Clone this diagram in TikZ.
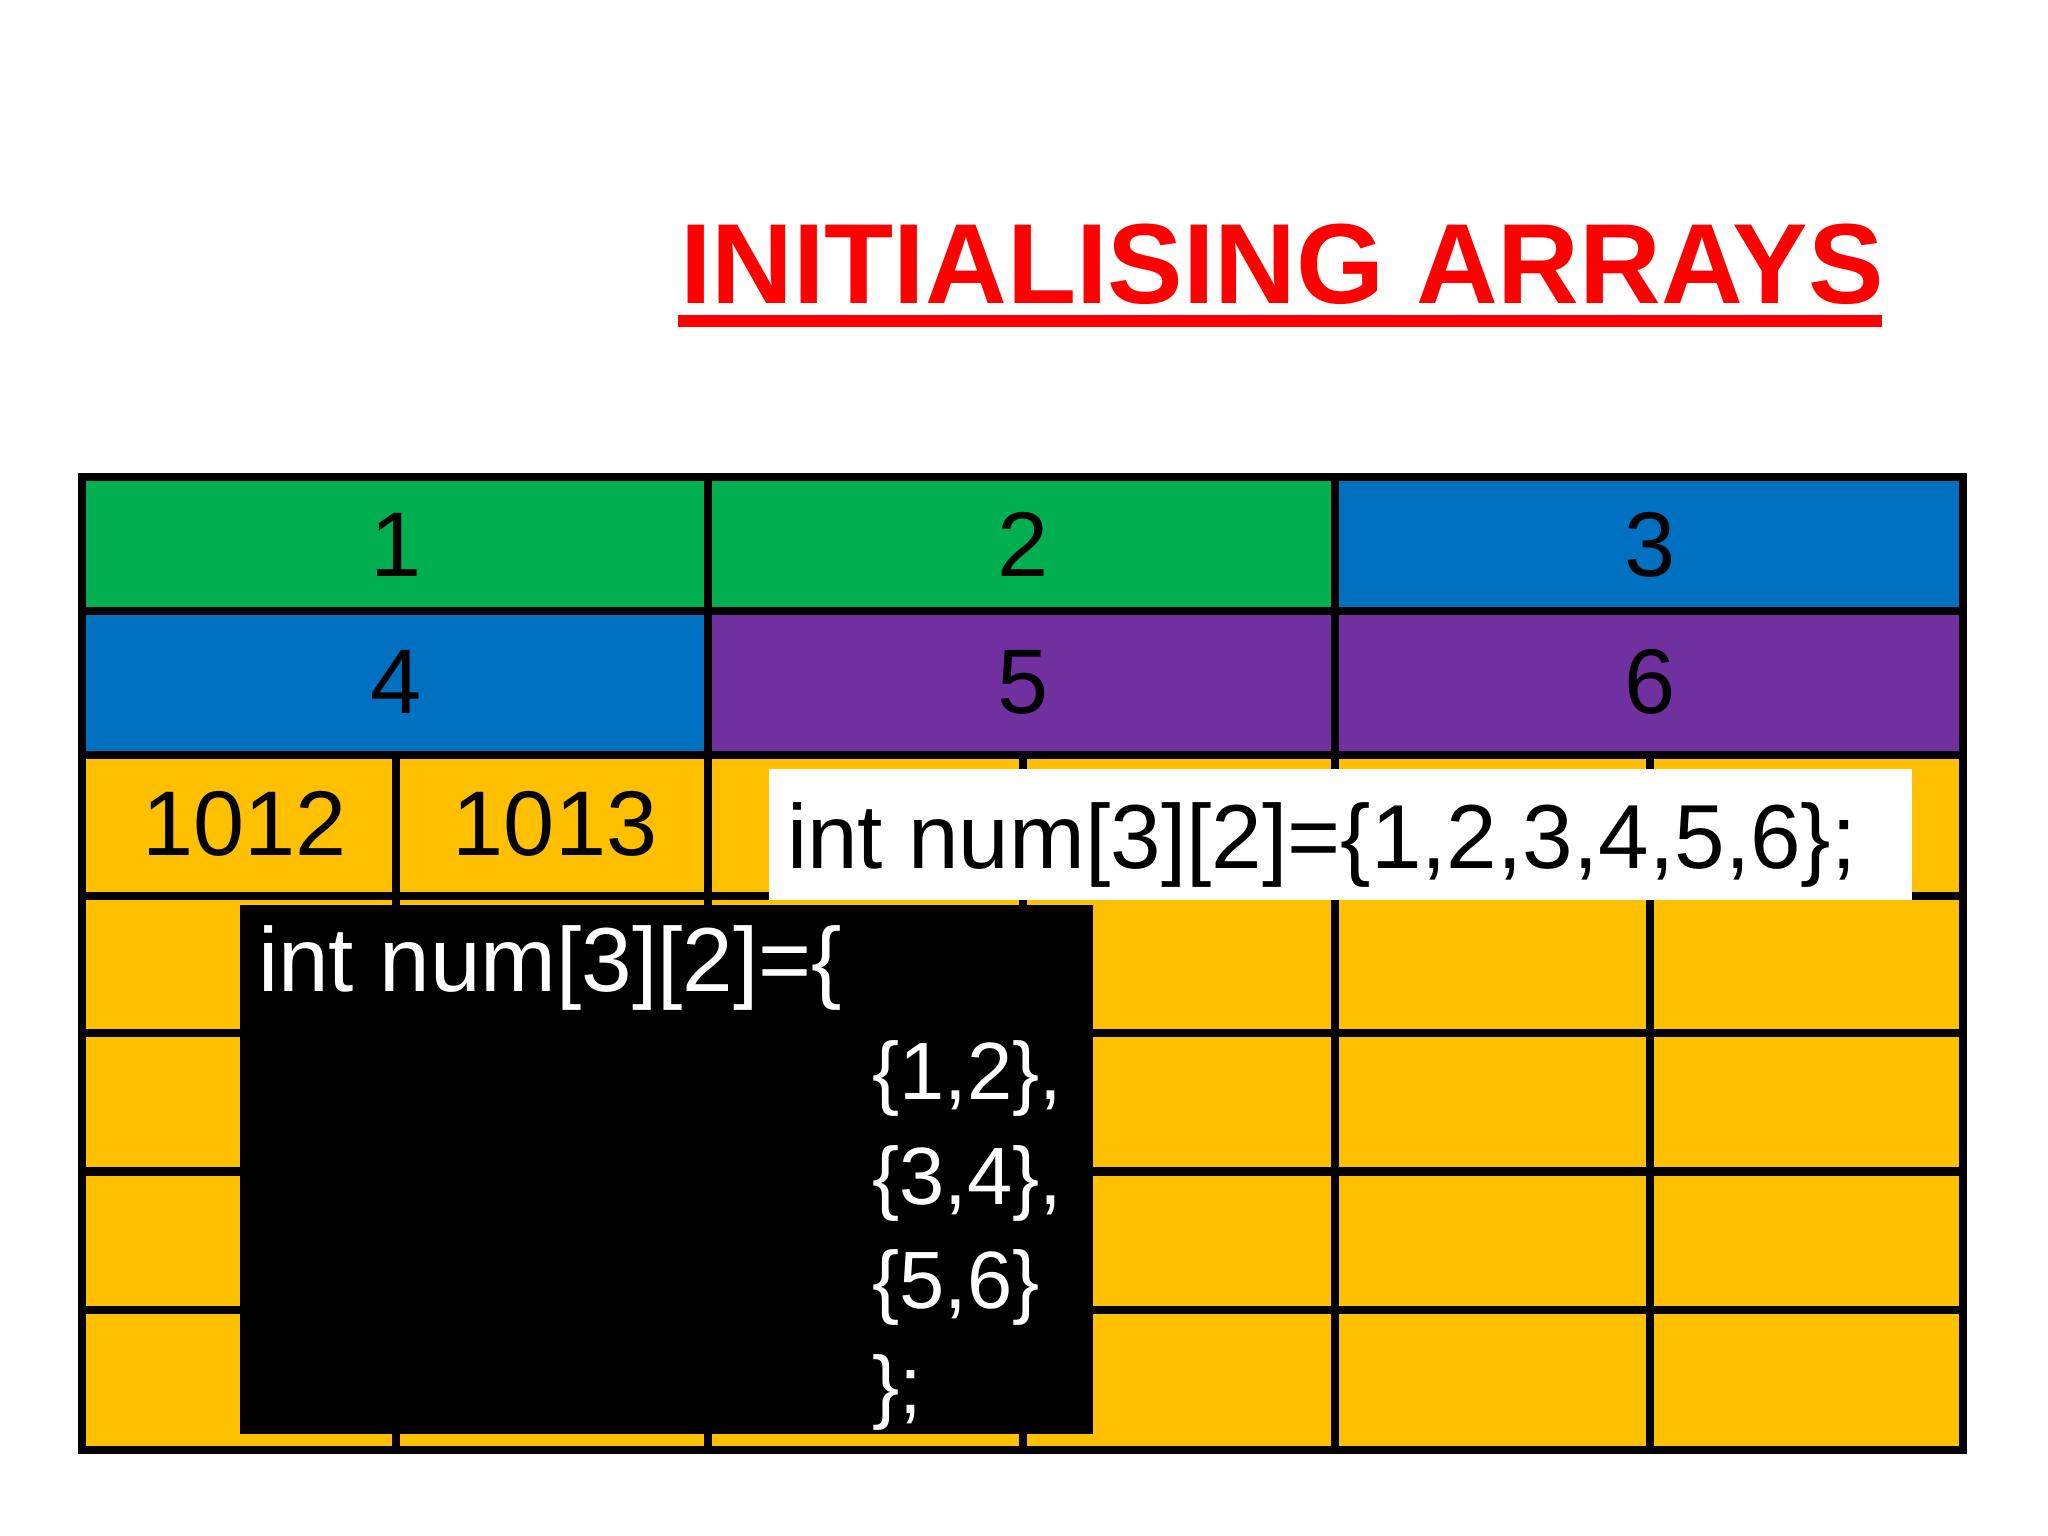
\documentclass[tikz,border=0pt]{standalone}
\usepackage{fontspec}
\setmainfont{Liberation Sans}
\definecolor{cgreen}{HTML}{00B050}
\definecolor{cblue}{HTML}{0070C0}
\definecolor{cpurple}{HTML}{7030A0}
\definecolor{cyellow}{HTML}{FFC000}
\definecolor{cred}{HTML}{FF0000}
\begin{document}
\begin{tikzpicture}[x=0.01cm,y=-0.01cm,
  gridline/.style={line width=1.8pt, black},
  num/.style={font=\fontsize{20}{24}\selectfont, inner sep=0, anchor=base},
  code/.style={font=\fontsize{19.8}{24}\selectfont, inner sep=0, anchor=base west},
  subcode/.style={font=\fontsize{17.7}{22}\selectfont, inner sep=0, anchor=base west, text=white},
  panel/.style={inner sep=0, anchor=north west}]
\useasboundingbox[fill=white] (0,0) rectangle (1568,1176);

% title
\node[anchor=base west, inner sep=0, text=cred, font=\fontsize{24.8}{30}\selectfont\bfseries] (title) at (520,232) {\scalebox{0.994}[1]{INITIALISING ARRAYS}};
\coordinate (ulA) at (519,245.5);
\coordinate (ulB) at (1441,245.5);
\draw[cred, line width=2.6pt] (ulA) -- (ulB);

% fills
\fill[cgreen] (63,365) rectangle (1022,468);
\fill[cblue] (1022,365) rectangle (1503,468);
\fill[cblue] (63,468) rectangle (542,578);
\fill[cpurple] (542,468) rectangle (1503,578);
\fill[cyellow] (63,578) rectangle (1503,1110);

% grid
\foreach \y in {468,578,686,791,897,1003} \draw[gridline] (63,\y) -- (1503,\y);
\foreach \x in {542,1022} \draw[gridline] (\x,365) -- (\x,1110);
\foreach \x in {303,783,1263} \draw[gridline] (\x,578) -- (\x,1110);
\draw[gridline] (63,365) rectangle (1503,1110);

% header numbers
\node[num] (n1) at (303,441.5) {1};
\node[num] (n2) at (783,441.5) {2};
\node[num] (n3) at (1263,441.5) {3};
\node[num] (n4) at (303,546) {4};
\node[num] (n5) at (783,546) {5};
\node[num] (n6) at (1263,546) {6};

% addresses
\node[num] (a1) at (187,655) {1012};
\node[num] (a2) at (425,655) {1013};

% white panel
\node[panel, fill=white, minimum width=8.75cm, minimum height=1cm] (wbox) at (588,588) {};
\node[code] (wtext) at (602,665) {int num[3][2]=\{1,2,3,4,5,6\};};

% black panel
\node[panel, fill=black, minimum width=6.53cm, minimum height=4.05cm] (bbox) at (183,692) {};
\node[code, text=white] (b0) at (197,759) {int num[3][2]=\{};
\node[subcode] (b1) at (667,842) {\{1,2\},};
\node[subcode] (b2) at (667,922) {\{3,4\},};
\node[subcode] (b3) at (667,1002) {\{5,6\}};
\node[subcode] (b4) at (667,1082) {\};};
\end{tikzpicture}
\end{document}
